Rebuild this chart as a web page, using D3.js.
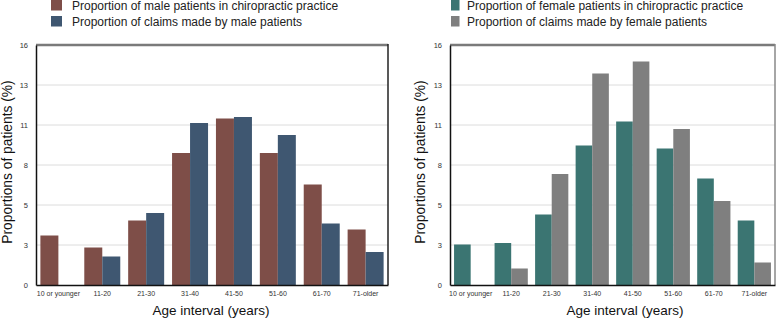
<!DOCTYPE html>
<html>
<head>
<meta charset="utf-8">
<script src="https://cdn.jsdelivr.net/npm/d3@7"></script>
<style>
  body { margin: 0; background: #fff; }
  svg { display: block; font-family: "Liberation Sans", Arial, sans-serif; }
</style>
</head>
<body>
<script>
const ageGroups = ["10 or younger", "11-20", "21-30", "31-40", "41-50", "51-60", "61-70", "71-older"];
const maleProportion = [3.3, 2.5, 4.3, 8.8, 11.1, 8.8, 6.7, 3.7];
const maleClaims = [0, 1.9, 4.8, 10.8, 11.2, 10.0, 4.1, 2.2];
const femaleProportion = [2.7, 2.8, 4.7, 9.3, 10.9, 9.1, 7.1, 4.3];
const femaleClaims = [0, 1.1, 7.4, 14.1, 14.9, 10.4, 5.6, 1.5];
const yTickLabels = ["0", "3", "5", "8", "11", "13", "16"];
const maleLegend = ["Proportion of male patients in chiropractic practice", "Proportion of claims made by male patients"];
const femaleLegend = ["Proportion of female patients in chiropractic practice", "Proportion of claims made by female patients"];

const WIDTH = 777;
const HEIGHT = 319;
const TOP = 45;
const BOTTOM = 285;
const Y_MAX = 16;

const svg = d3.select("body")
  .append("svg")
  .attr("width", WIDTH)
  .attr("height", HEIGHT);

function drawPanel(p) {
  const g = svg.append("g");

  const x = d3.scaleBand()
    .domain(ageGroups)
    .range([p.left, p.right])
    .paddingInner(0.18)
    .paddingOuter(0.1);
  const x1 = d3.scaleBand()
    .domain([0, 1])
    .range([0, x.bandwidth()]);
  const y = d3.scaleLinear()
    .domain([0, Y_MAX])
    .range([BOTTOM, TOP]);

  const tickVals = yTickLabels.map((d, i) => i * Y_MAX / (yTickLabels.length - 1));

  // gridlines
  g.selectAll("line.grid")
    .data(tickVals.slice(1, -1))
    .enter()
    .append("line")
    .attr("class", "grid")
    .attr("x1", p.left)
    .attr("x2", p.right)
    .attr("y1", d => y(d))
    .attr("y2", d => y(d))
    .attr("stroke", "#dcdcdc")
    .attr("stroke-width", 1);

  // bars
  const series = [p.first, p.second];
  const groups = g.selectAll("g.grp")
    .data(ageGroups)
    .enter()
    .append("g")
    .attr("transform", d => "translate(" + x(d) + ",0)");
  groups.selectAll("rect")
    .data((d, i) => series.map((s, k) => ({ k: k, v: s[i] })))
    .enter()
    .append("rect")
    .attr("x", d => x1(d.k))
    .attr("y", d => y(d.v))
    .attr("width", x1.bandwidth())
    .attr("height", d => BOTTOM - y(d.v))
    .attr("fill", d => p.colors[d.k]);

  // frame: top and right
  g.append("line")
    .attr("x1", p.left).attr("x2", p.right)
    .attr("y1", TOP).attr("y2", TOP)
    .attr("stroke", "#7a7a7a").attr("stroke-width", 2.5);
  g.append("line")
    .attr("x1", p.right).attr("x2", p.right)
    .attr("y1", TOP - 1).attr("y2", BOTTOM)
    .attr("stroke", p.rightStroke).attr("stroke-width", 1.5);

  // axes
  const yAxis = d3.axisLeft(y)
    .tickValues(tickVals)
    .tickFormat((d, i) => yTickLabels[i])
    .tickSize(0)
    .tickPadding(8);
  const ya = g.append("g")
    .attr("transform", "translate(" + p.left + ",0)")
    .call(yAxis);
  ya.select(".domain").attr("stroke", "#111").attr("stroke-width", 1.5);
  ya.selectAll("text").attr("font-size", 7.5).attr("fill", "#333").attr("font-family", null);

  const xAxis = d3.axisBottom(x).tickSize(0).tickPadding(6);
  const xa = g.append("g")
    .attr("transform", "translate(0," + BOTTOM + ")")
    .call(xAxis);
  xa.select(".domain").attr("stroke", "#111").attr("stroke-width", 1.5);
  xa.selectAll("text").attr("font-size", 7).attr("fill", "#333").attr("font-family", null);

  // axis titles
  g.append("text")
    .attr("x", p.xTitleX)
    .attr("y", 315)
    .attr("text-anchor", "middle")
    .attr("font-size", 13.5)
    .attr("fill", "#111")
    .text("Age interval (years)");
  g.append("text")
    .attr("transform", "translate(" + p.yTitleX + ",162) rotate(-90)")
    .attr("text-anchor", "middle")
    .attr("font-size", 13.8)
    .attr("fill", "#111")
    .text("Proportions of patients (%)");

  // legend
  const leg = g.selectAll("g.leg")
    .data(p.legend)
    .enter()
    .append("g")
    .attr("transform", (d, i) => "translate(0," + (9.5 + i * 16) + ")");
  leg.append("rect")
    .attr("x", p.legendX)
    .attr("y", -9.5)
    .attr("width", p.swatchW)
    .attr("height", 10.5)
    .attr("fill", (d, i) => p.colors[i]);
  leg.append("text")
    .attr("x", p.legendTextX)
    .attr("y", 0)
    .attr("font-size", 12)
    .attr("fill", "#222")
    .text(d => d);
}

drawPanel({
  left: 36, right: 388,
  first: maleProportion, second: maleClaims,
  colors: ["#7e4e48", "#3f5771"],
  rightStroke: "#222",
  xTitleX: 211, yTitleX: 12,
  legend: maleLegend, legendX: 51, swatchW: 11, legendTextX: 72
});

drawPanel({
  left: 450, right: 775,
  first: femaleProportion, second: femaleClaims,
  colors: ["#3b7572", "#7f7f7f"],
  rightStroke: "#888",
  xTitleX: 625, yTitleX: 425,
  legend: femaleLegend, legendX: 451, swatchW: 8.5, legendTextX: 467
});
</script>
</body>
</html>
